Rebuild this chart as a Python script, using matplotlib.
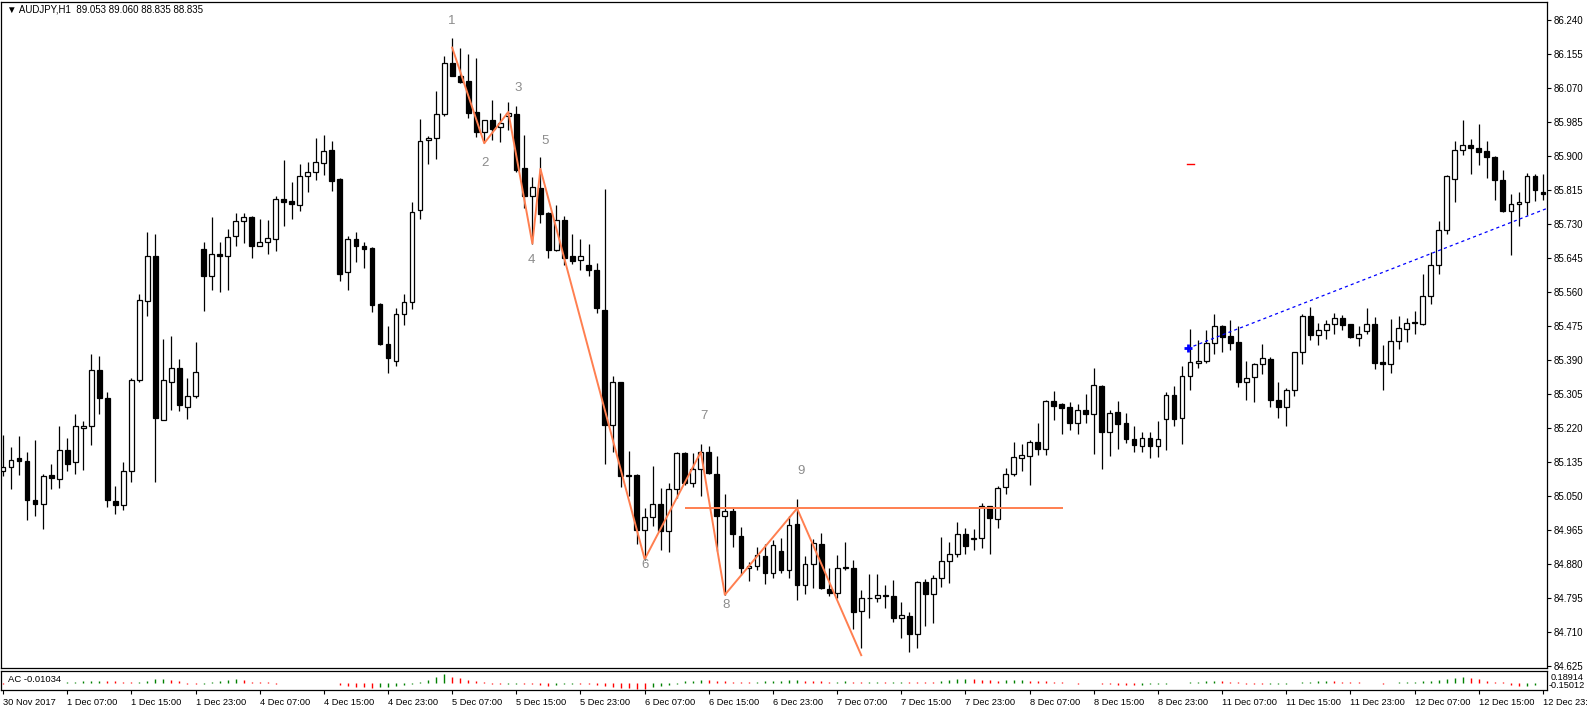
import matplotlib
matplotlib.use("Agg")
import numpy as np
import matplotlib.pyplot as plt

plt.rcParams['font.family'] = ['Liberation Sans', 'DejaVu Sans']

# AUDJPY H1 candles, bar 0 = 30 Nov 2017 23:00
open_ = [85.113, 85.123, 85.145, 85.139, 85.041, 85.030, 85.103, 85.094, 85.167, 85.135,
         85.222, 85.227, 85.367, 85.295, 85.038, 85.028, 85.113, 85.342, 85.538, 85.650,
         85.242, 85.337, 85.370, 85.274, 85.300, 85.668, 85.600, 85.657, 85.652, 85.700,
         85.738, 85.749, 85.677, 85.685, 85.693, 85.793, 85.789, 85.778, 85.851, 85.860,
         85.883, 85.915, 85.844, 85.610, 85.693, 85.675, 85.671, 85.530, 85.431, 85.388,
         85.506, 85.535, 85.765, 85.941, 85.946, 86.005, 86.133, 86.102, 86.088, 86.010,
         85.960, 85.990, 85.973, 86.000, 86.005, 85.871, 85.802, 85.821, 85.759, 85.666,
         85.741, 85.650, 85.642, 85.629, 85.616, 85.516, 85.228, 85.335, 85.103, 85.103,
         84.966, 84.998, 85.030, 84.964, 85.068, 85.159, 85.084, 85.118, 85.161, 85.107,
         85.000, 85.013, 84.952, 84.870, 84.875, 84.902, 84.859, 84.913, 84.867, 84.982,
         84.829, 84.881, 84.932, 84.819, 84.808, 84.870, 84.870, 84.763, 84.795, 84.795,
         84.804, 84.801, 84.745, 84.750, 84.707, 84.836, 84.806, 84.845, 84.888, 84.907,
         84.955, 84.943, 84.945, 85.025, 84.993, 85.073, 85.107, 85.146, 85.150, 85.185,
         85.169, 85.289, 85.281, 85.273, 85.233, 85.267, 85.255, 85.327, 85.212, 85.260,
         85.233, 85.193, 85.177, 85.196, 85.175, 85.244, 85.303, 85.247, 85.351, 85.383,
         85.388, 85.433, 85.476, 85.452, 85.436, 85.335, 85.348, 85.381, 85.394, 85.290,
         85.273, 85.316, 85.412, 85.500, 85.454, 85.466, 85.482, 85.495, 85.481, 85.447,
         85.463, 85.482, 85.385, 85.380, 85.438, 85.468, 85.484, 85.482, 85.551, 85.629,
         85.717, 85.844, 85.915, 85.928, 85.922, 85.914, 85.899, 85.842, 85.764, 85.781,
         85.786, 85.850, 85.812]
high = [85.203, 85.174, 85.201, 85.160, 85.191, 85.107, 85.130, 85.225, 85.196, 85.255,
        85.239, 85.406, 85.402, 85.311, 85.075, 85.137, 85.346, 85.556, 85.711, 85.706,
        85.444, 85.450, 85.394, 85.346, 85.436, 85.685, 85.748, 85.687, 85.719, 85.759,
        85.759, 85.750, 85.743, 85.741, 85.800, 85.890, 85.837, 85.880, 85.885, 85.947,
        85.954, 85.938, 85.846, 85.701, 85.712, 85.685, 85.674, 85.533, 85.476, 85.522,
        85.557, 85.786, 85.994, 85.952, 86.063, 86.152, 86.195, 86.171, 86.157, 86.145,
        85.992, 86.040, 86.008, 86.035, 86.026, 85.954, 85.848, 85.899, 85.760, 85.778,
        85.751, 85.706, 85.693, 85.682, 85.634, 85.819, 85.351, 85.337, 85.164, 85.105,
        85.020, 85.127, 85.070, 85.084, 85.160, 85.161, 85.159, 85.182, 85.175, 85.150,
        85.057, 85.020, 84.973, 84.886, 84.923, 84.932, 84.940, 84.947, 85.000, 85.043,
        84.902, 84.943, 84.958, 84.870, 84.904, 84.936, 84.891, 84.817, 84.856, 84.856,
        84.829, 84.841, 84.785, 84.761, 84.838, 84.843, 84.854, 84.948, 84.936, 84.987,
        84.972, 84.968, 85.033, 85.027, 85.076, 85.121, 85.187, 85.180, 85.191, 85.233,
        85.292, 85.313, 85.283, 85.287, 85.281, 85.306, 85.372, 85.329, 85.265, 85.289,
        85.258, 85.226, 85.212, 85.212, 85.239, 85.310, 85.327, 85.375, 85.468, 85.440,
        85.466, 85.506, 85.478, 85.490, 85.476, 85.388, 85.383, 85.431, 85.399, 85.335,
        85.321, 85.411, 85.506, 85.524, 85.484, 85.490, 85.508, 85.504, 85.482, 85.476,
        85.522, 85.498, 85.429, 85.493, 85.500, 85.495, 85.513, 85.607, 85.661, 85.739,
        85.853, 85.938, 85.990, 85.944, 85.981, 85.938, 85.900, 85.867, 85.807, 85.810,
        85.858, 85.856, 85.856]
low = [85.102, 85.068, 85.103, 84.991, 85.001, 84.969, 85.068, 85.071, 85.113, 85.105,
       85.116, 85.178, 85.257, 85.023, 85.007, 85.017, 85.087, 85.337, 85.500, 85.087,
       85.240, 85.265, 85.263, 85.244, 85.297, 85.514, 85.565, 85.562, 85.565, 85.677,
       85.684, 85.645, 85.675, 85.657, 85.664, 85.727, 85.743, 85.764, 85.812, 85.842,
       85.853, 85.813, 85.589, 85.567, 85.637, 85.621, 85.511, 85.428, 85.359, 85.375,
       85.479, 85.519, 85.744, 85.880, 85.893, 86.000, 86.100, 86.083, 85.997, 85.949,
       85.933, 85.942, 85.935, 85.965, 85.860, 85.771, 85.682, 85.733, 85.645, 85.664,
       85.629, 85.632, 85.615, 85.600, 85.509, 85.132, 85.161, 85.073, 85.052, 84.932,
       84.891, 84.977, 84.916, 84.910, 85.046, 85.078, 85.073, 85.052, 85.105, 84.913,
       84.803, 84.923, 84.854, 84.838, 84.865, 84.830, 84.845, 84.859, 84.845, 84.790,
       84.806, 84.822, 84.819, 84.801, 84.795, 84.865, 84.718, 84.672, 84.747, 84.785,
       84.771, 84.737, 84.697, 84.660, 84.672, 84.726, 84.733, 84.824, 84.833, 84.899,
       84.905, 84.915, 84.920, 84.905, 84.972, 85.055, 85.102, 85.113, 85.078, 85.153,
       85.153, 85.242, 85.205, 85.217, 85.207, 85.233, 85.155, 85.118, 85.150, 85.169,
       85.183, 85.162, 85.162, 85.147, 85.148, 85.167, 85.226, 85.180, 85.316, 85.370,
       85.383, 85.406, 85.410, 85.417, 85.324, 85.290, 85.285, 85.356, 85.273, 85.246,
       85.226, 85.301, 85.380, 85.440, 85.429, 85.444, 85.455, 85.465, 85.447, 85.426,
       85.455, 85.369, 85.316, 85.359, 85.418, 85.436, 85.455, 85.479, 85.532, 85.607,
       85.706, 85.786, 85.903, 85.856, 85.878, 85.846, 85.792, 85.760, 85.653, 85.725,
       85.754, 85.789, 85.791]
close = [85.123, 85.142, 85.139, 85.041, 85.032, 85.102, 85.097, 85.167, 85.132, 85.225,
         85.227, 85.365, 85.295, 85.041, 85.028, 85.113, 85.342, 85.540, 85.650, 85.247,
         85.340, 85.370, 85.278, 85.300, 85.362, 85.600, 85.655, 85.652, 85.698, 85.738,
         85.749, 85.677, 85.685, 85.695, 85.793, 85.787, 85.780, 85.851, 85.860, 85.885,
         85.914, 85.839, 85.607, 85.693, 85.675, 85.669, 85.529, 85.431, 85.397, 85.506,
         85.536, 85.762, 85.938, 85.946, 86.005, 86.133, 86.102, 86.086, 86.008, 85.960,
         85.990, 85.968, 85.983, 86.008, 85.866, 85.802, 85.823, 85.757, 85.666, 85.741,
         85.647, 85.639, 85.652, 85.615, 85.520, 85.228, 85.335, 85.100, 85.100, 84.966,
         84.998, 85.030, 84.963, 85.068, 85.159, 85.084, 85.118, 85.161, 85.108, 85.000,
         85.013, 84.955, 84.870, 84.875, 84.904, 84.859, 84.929, 84.867, 84.979, 84.829,
         84.881, 84.934, 84.822, 84.808, 84.870, 84.873, 84.760, 84.795, 84.797, 84.804,
         84.800, 84.745, 84.753, 84.707, 84.836, 84.806, 84.845, 84.888, 84.907, 84.957,
         84.926, 84.947, 85.025, 84.995, 85.071, 85.107, 85.148, 85.153, 85.185, 85.169,
         85.289, 85.276, 85.271, 85.233, 85.267, 85.255, 85.329, 85.212, 85.258, 85.230,
         85.193, 85.178, 85.196, 85.175, 85.194, 85.303, 85.244, 85.351, 85.385, 85.388,
         85.433, 85.476, 85.449, 85.434, 85.335, 85.345, 85.381, 85.396, 85.290, 85.273,
         85.316, 85.410, 85.500, 85.454, 85.465, 85.482, 85.495, 85.479, 85.449, 85.455,
         85.482, 85.383, 85.380, 85.438, 85.470, 85.484, 85.487, 85.551, 85.629, 85.717,
         85.850, 85.915, 85.928, 85.922, 85.912, 85.898, 85.842, 85.764, 85.780, 85.785,
         85.851, 85.816, 85.806]

# Accelerator Oscillator values
ac_values = [-0.020, -0.004, -0.003, -0.002, -0.003, -0.002, -0.001, 0.000, 0.020, 0.021,
             0.030, 0.035, 0.040, 0.035, 0.030, 0.020, 0.010, 0.020, 0.050, 0.090,
             0.095, 0.070, 0.030, -0.020, -0.030, -0.020, 0.010, 0.040, 0.060, 0.080,
             0.060, 0.020, 0.010, 0.005, -0.020, -0.010, -0.011, -0.012, -0.013, -0.004,
             -0.006, -0.010, -0.050, -0.070, -0.090, -0.110, -0.115, -0.100, -0.095, -0.085,
             -0.060, -0.020, 0.020, 0.070, 0.120, 0.189, 0.130, 0.100, 0.070, 0.040,
             0.010, -0.030, -0.040, -0.030, -0.020, -0.030, -0.040, -0.060, -0.070, -0.050,
             -0.040, -0.030, -0.035, -0.040, -0.050, -0.070, -0.100, -0.115, -0.130, -0.145,
             -0.150, -0.100, -0.080, -0.060, -0.030, 0.030, 0.050, 0.070, 0.060, 0.040,
             0.030, 0.020, 0.015, 0.010, 0.012, 0.030, 0.040, 0.050, 0.060, 0.065,
             0.050, 0.040, 0.030, 0.020, 0.025, 0.030, 0.020, 0.010, 0.015, 0.020,
             0.018, 0.022, 0.025, 0.020, 0.015, 0.012, 0.010, 0.030, 0.060, 0.080,
             0.090, 0.080, 0.070, 0.060, 0.050, 0.055, 0.060, 0.065, 0.050, 0.040,
             0.030, 0.020, 0.010, -0.010, -0.020, -0.015, -0.012, -0.030, -0.040, -0.050,
             -0.055, -0.060, -0.050, -0.040, -0.030, -0.020, -0.010, -0.005, 0.010, 0.020,
             0.030, 0.040, 0.030, 0.020, 0.010, -0.020, -0.030, -0.040, -0.035, -0.030,
             -0.020, -0.010, 0.010, 0.020, 0.030, 0.040, 0.030, 0.020, 0.010, 0.005,
             0.000, -0.010, -0.020, -0.010, 0.005, 0.010, 0.020, 0.030, 0.045, 0.070,
             0.090, 0.100, 0.130, 0.100, 0.090, 0.050, 0.020, 0.010, -0.060, -0.075,
             -0.070, -0.050, -0.01034]

# ZigZag turning points (bar index, price) and their labels
zz_idx = [56, 60, 63, 66, 67, 80, 87, 90, 99, 107]
zz_price = [86.172, 85.933, 86.011, 85.682, 85.869, 84.893, 85.161, 84.804, 85.020, 84.653]
zz_labels = ["1", "2", "3", "4", "5", "6", "7", "8", "9"]
zz_label_offsets = [(0, 19), (0.7, -14), (7, 17), (-0.7, -12), (3.6, 20),
                    (0, -4), (2.2, 26), (0.7, -7), (2.9, 27)]

level_price = 85.022
level_from, level_to = 85, 132.1

trend_x = [147.7, 192.5]
trend_y = [85.420, 85.770]
red_mark_x = [147.6, 148.5]
red_mark_y = 85.882

price_ticks = [84.625 + 0.085 * k for k in range(20)]
time_labels = ["30 Nov 2017", "1 Dec 07:00", "1 Dec 15:00", "1 Dec 23:00", "4 Dec 07:00",
               "4 Dec 15:00", "4 Dec 23:00", "5 Dec 07:00", "5 Dec 15:00", "5 Dec 23:00",
               "6 Dec 07:00", "6 Dec 15:00", "6 Dec 23:00", "7 Dec 07:00", "7 Dec 15:00",
               "7 Dec 23:00", "8 Dec 07:00", "8 Dec 15:00", "8 Dec 23:00", "11 Dec 07:00",
               "11 Dec 15:00", "11 Dec 23:00", "12 Dec 07:00", "12 Dec 15:00", "12 Dec 23:00"]
time_ticks = [8 * k for k in range(len(time_labels))]

W, H = 1587, 713
fig = plt.figure(figsize=(W / 100, H / 100), dpi=100)
ax = fig.add_axes([1 / W, 45 / H, 1546 / W, 666 / H])
ac_ax = fig.add_axes([1 / W, 23 / H, 1546 / W, 19 / H])

o, h, l, c = map(np.array, (open_, high, low, close))
idx = np.arange(len(c))
up = c >= o
body_lo = np.minimum(o, c)
body_h = np.abs(c - o)

# candles
ax.vlines(idx, l, h, color="black", lw=0.9, zorder=2)
ax.bar(idx[up], body_h[up], bottom=body_lo[up], width=0.6, facecolor="white",
       edgecolor="black", linewidth=0.9, zorder=3)
ax.bar(idx[~up], body_h[~up], bottom=body_lo[~up], width=0.6, facecolor="black",
       edgecolor="black", linewidth=0.9, zorder=3)

# zigzag + labels
zz_color = "#ff7f50"
ax.plot(zz_idx, zz_price, color=zz_color, lw=1.4, zorder=4)
for lab, xi, yi, off in zip(zz_labels, zz_idx, zz_price, zz_label_offsets):
    ax.annotate(lab, (xi, yi), xytext=off, textcoords="offset points",
                ha="center", va="center", color="#8c8c8c", fontsize=9.5, zorder=5)
ax.hlines(level_price, level_from, level_to, color=zz_color, lw=1.4, zorder=4)

# trend line
ax.plot(trend_x, trend_y, color="blue", lw=0.9, dashes=(2.5, 2.5), zorder=4)
ax.plot(trend_x[0], trend_y[0], marker="+", color="blue", ms=6, mew=2, zorder=5)
ax.plot(red_mark_x, [red_mark_y, red_mark_y], color="red", lw=1, zorder=4)

ax.set_xlim(-0.25, 192.5)
ax.set_ylim(84.621, 86.286)
ax.set_xticks([])
ax.yaxis.tick_right()
ax.set_yticks(price_ticks)
ax.set_yticklabels([f"{v:.3f}" for v in price_ticks])
ax.tick_params(axis="y", direction="out", length=3, width=0.8, pad=1.5,
               labelsize=7.0, colors="black")
for sp in ax.spines.values():
    sp.set_linewidth(0.9)

# AC panel
ac = np.array(ac_values)
ac_colors = ["#008000" if i > 0 and ac[i] > ac[i - 1] else "#ff0000" for i in range(len(ac))]
ac_ax.vlines(idx, 0, ac, colors=ac_colors, lw=1.0)
ac_ax.set_xlim(-0.25, 192.5)
ac_ax.set_ylim(-0.17, 0.27)
ac_ax.set_yticks([])
ac_ax.set_xticks(time_ticks)
ac_ax.set_xticklabels(time_labels, ha="left")
ac_ax.tick_params(axis="x", direction="out", length=3, width=0.8, pad=2.5, labelsize=6.7)
for sp in ac_ax.spines.values():
    sp.set_linewidth(0.9)

fig.text(7 / W, 1 - 10 / H, "\u25bc AUDJPY,H1  89.053 89.060 88.835 88.835",
         fontsize=7.0, va="center", ha="left")
fig.text(8 / W, 1 - 679 / H, "AC -0.01034", fontsize=6.8, va="center", ha="left")
fig.text(1551 / W, 1 - 677 / H, "0.18914", fontsize=6.6, va="center", ha="left")
fig.text(1549 / W, 1 - 686 / H, "-0.15012", fontsize=6.6, va="center", ha="left")

fig.savefig("out.png", dpi=100, facecolor="white")
